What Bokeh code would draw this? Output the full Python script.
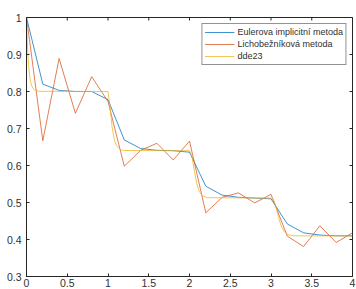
import math
from bokeh.plotting import figure
from bokeh.models import Range1d, FixedTicker, Legend, LegendItem
from bokeh.embed import file_html
from bokeh.resources import INLINE

# Data
t_steps = [0.0, 0.2, 0.4, 0.6, 0.8, 1.0, 1.2, 1.4, 1.6, 1.8, 2.0,
           2.2, 2.4, 2.6, 2.8, 3.0, 3.2, 3.4, 3.6, 3.8, 4.0]
euler_implicit = [1.0, 0.82, 0.803, 0.80, 0.80, 0.778, 0.669, 0.646, 0.641, 0.64, 0.636,
                  0.544, 0.52, 0.514, 0.512, 0.51, 0.442, 0.418, 0.412, 0.41, 0.41]
trapezoid = [1.0, 0.667, 0.889, 0.741, 0.840, 0.773, 0.598, 0.641, 0.660, 0.615, 0.666,
             0.472, 0.514, 0.526, 0.499, 0.522, 0.409, 0.381, 0.437, 0.392, 0.418]
t_dde = [0.0, 0.01, 0.02, 0.03, 0.04, 0.05, 0.06, 0.08, 0.10, 0.15,
         1.0, 1.025, 1.05, 1.075, 1.10, 1.15, 1.20,
         2.0, 2.03, 2.06, 2.09, 2.12, 2.16, 2.22,
         3.0, 3.03, 3.06, 3.09, 3.12, 3.16, 3.22, 3.30, 4.0]
dde23 = [1.0, 0.934, 0.890, 0.860, 0.840, 0.827, 0.818, 0.808, 0.804, 0.8005,
         0.80, 0.758, 0.705, 0.672, 0.655, 0.643, 0.6405,
         0.64, 0.6245, 0.585, 0.551, 0.530, 0.518, 0.513,
         0.512, 0.5085, 0.4893, 0.4623, 0.4397, 0.4218, 0.4121, 0.4098, 0.4096]
labels = ["Eulerova implicitní metoda", "Lichobežníková metoda", "dde23"]
x_ticks = [0, 0.5, 1, 1.5, 2, 2.5, 3, 3.5, 4]
y_ticks = [0.3, 0.4, 0.5, 0.6, 0.7, 0.8, 0.9, 1.0]

FONT = "Liberation Sans"
AX = "#262626"
TXT = "#303030"

x0, x1 = x_ticks[0], x_ticks[-1]
y0, y1 = y_ticks[0], y_ticks[-1]

p = figure(width=356, height=289, output_backend="svg", toolbar_location=None,
           x_range=Range1d(x0, x1), y_range=Range1d(y0, y1),
           min_border_left=26, min_border_right=4, min_border_top=17, min_border_bottom=0)
p.grid.visible = False
p.outline_line_color = AX
p.outline_line_width = 1
p.background_fill_color = "white"
p.border_fill_color = "white"

for ax in p.xaxis + p.yaxis:
    ax.axis_line_color = AX
    ax.major_tick_line_color = AX
    ax.major_tick_in = 3
    ax.major_tick_out = 0
    ax.minor_tick_line_color = None
    ax.major_label_text_font = FONT
    ax.major_label_text_font_size = "10.5px"
    ax.major_label_text_color = TXT
p.xaxis.ticker = FixedTicker(ticks=x_ticks)
p.yaxis.ticker = FixedTicker(ticks=y_ticks)
p.xaxis.major_label_standoff = 2
p.yaxis.major_label_standoff = 5
p.xaxis.major_label_overrides = {0: "0", 0.5: "0.5", 1: "1", 1.5: "1.5", 2: "2",
                                 2.5: "2.5", 3: "3", 3.5: "3.5", 4: "4"}
p.yaxis.major_label_overrides = {1.0: "1", 0.3: "0.3", 0.4: "0.4", 0.5: "0.5",
                                 0.6: "0.6", 0.7: "0.7", 0.8: "0.8", 0.9: "0.9"}

# inward tick marks on the top and right edges of the box
p.scatter(x=x_ticks, y=[y1] * len(x_ticks), marker="dash", angle=math.pi / 2,
          size=6, line_color=AX, line_width=1)
p.scatter(x=[x1] * len(y_ticks), y=y_ticks, marker="dash",
          size=6, line_color=AX, line_width=1)

r1 = p.line(t_steps, euler_implicit, line_color="#0072BD", line_width=1, line_alpha=0.75)
r2 = p.line(t_steps, trapezoid, line_color="#D95319", line_width=1, line_alpha=0.75)
r3 = p.line(t_dde, dde23, line_color="#EDB120", line_width=1, line_alpha=0.75)

legend = Legend(items=[LegendItem(label=labels[0], renderers=[r1]),
                       LegendItem(label=labels[1], renderers=[r2]),
                       LegendItem(label=labels[2], renderers=[r3])],
                location="top_right")
legend.label_text_font = FONT
legend.label_text_font_size = "9px"
legend.label_text_color = TXT
legend.glyph_width = 30
legend.glyph_height = 12
legend.label_height = 12
legend.label_standoff = 3
legend.spacing = 0
legend.padding = 2
legend.margin = 6
legend.border_line_color = AX
legend.border_line_width = 1
legend.background_fill_alpha = 1
p.add_layout(legend)

open("out.html", "w").write(file_html(p, INLINE))
